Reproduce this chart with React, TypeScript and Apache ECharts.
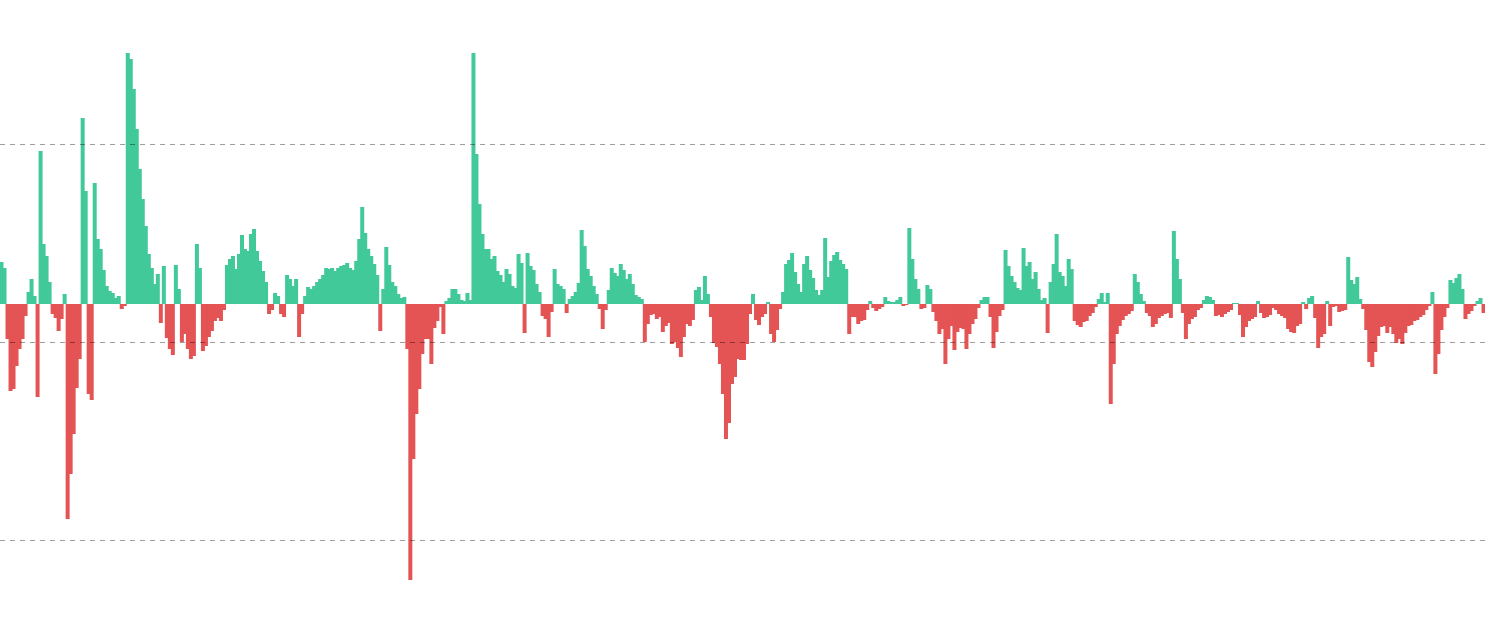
import React, { useEffect, useRef } from "react";
import * as echarts from "echarts";

// Oscillator values, one bar per period, read left to right
const seg1 = [42, 36, -35, -87, -85, -62, -45, -35, -12, 12, 25, 8, -93, 153, 60, 48, 22, -10, -14, -27, -15, 10, -215, -170, -130, -84, -55, 186, 113, -90, -96, 121, 65, 55, 34, 18, 13, 11, 6, 8, -5, -2, 251, 245, 215, 175, 135, 105, 78, 50, 36, 20, 30, -19, 38, -34, -45, -51, 39, 15, -38, -30, -45, -55, -52, 60, 36, -47, -42, -33, -27, -17, -14, -17, -6, 39, 45, 48, 35, 50, 69, 55, 53, 70];
const seg2 = [75, 53, 43, 33, 22, -10, -6, 11, 8, -10, -13, 29, 25, 18, 25, -33, -10, 8, 17, 15, 18, 22, 25, 29, 36, 35, 36, 33, 36, 38, 39, 41, 36, 34, 43, 65, 97, 71, 55, 48, 40, 29, -27, 15, 57, 39, 22, 18, 10, 6, 7, -45, -276, -155, -110, -85, -50, -35, -35, -60, -24, -17, -3, -30, 3, 6, 15, 15, 10, 4, 3, 11, 4, 251, 150, 100, 70, 55, 55, 45, 48, 33];
const seg3 = [29, 22, 35, 30, 18, 16, 50, 41, -29, 51, 38, 34, 20, 12, -12, -15, -33, -8, 35, 20, 18, 15, -9, 5, 8, 12, 21, 74, 58, 35, 28, 18, 10, -5, -25, -6, 14, 36, 31, 28, 40, 34, 25, 30, 20, 9, 7, 5, -38, -20, -11, -10, -15, -13, -28, -22, -19, -40, -38, -44, -53, -33, -20, -22, -16, 14, 17, 4, 28, 10, -13, -39, -43, -60, -90, -135, -119, -80, -73, -55, -56, -56, -40];
const seg4 = [-10, 10, -16, -21, -13, -10, 2, -30, -38, -26, -5, 12, 40, 44, 51, 32, 20, 12, 40, 48, 34, 26, 14, 9, 14, 66, 27, 43, 49, 52, 44, 40, 35, -30, -13, -13, -20, -17, -16, -6, 3, -4, -7, -5, -3, 7, 3, 2, 2, 4, 7, -2, -1, 76, 45, 25, 15, -5, -4, 19, 15, -8, -17, -30, -25, -60, -35, -22, -46, -28, -24, -25, -45, -30, -20, -15, -4, 4, 7, 7, -13];
const seg5 = [-44, -28, -12, -6, 54, 38, 28, 22, 16, 14, 56, 38, 42, 25, 32, 15, 4, 6, -29, 22, 40, 70, 32, 28, 18, 45, 35, -17, -21, -23, -18, -17, -12, -9, -3, 5, 11, 2, 11, -100, -60, -30, -22, -16, -12, -10, -7, 30, 22, 10, 3, -9, -12, -23, -20, -14, -12, -10, -9, -14, 73, 45, 25, -9, -35, -20, -15, -13, -6, -4, 4, 8, 7, 4, -12, -11, -13, -10, -8, -6, 1, 1, -11];
const seg6 = [-33, -23, -17, -15, -13, 3, -9, -14, -13, -11, -4, -6, -10, -12, -14, -25, -28, -29, -22, -20, 2, -5, 6, 8, -14, -44, -33, -30, 3, -22, -3, -2, -8, -7, -6, 47, 24, 20, 27, 5, -5, -26, -58, -63, -48, -32, -23, -22, -29, -23, -30, -39, -35, -40, -29, -22, -21, -17, -16, -13, -11, -6, -2, 12, -70, -50, -26, -13, -4, 24, 21, 26, 30, 15, -15, -10, -7, -2, 3, 6, -9];

const values: number[] = [...seg1, ...seg2, ...seg3, ...seg4, ...seg5, ...seg6];
const categories: string[] = values.map((_, i) => String(i + 1));

// reference scale lines (secondary axis)
const guideMin = 0;
const guideMax = 2;
const guideInterval = 1;

const UP = "#42c99a";
const DOWN = "#e45454";

export default function App() {
  const ref = useRef<HTMLDivElement>(null);
  useEffect(() => {
    if (!ref.current) return;
    const chart = echarts.init(ref.current, null, { renderer: "svg" });
    const barData = values.map((v) => ({ value: v, itemStyle: { color: v >= 0 ? UP : DOWN } }));
    chart.setOption({
      animation: false,
      backgroundColor: "#ffffff",
      grid: [
        { left: 0, right: 5, top: 53, bottom: 53 },
        { left: 0, right: 4, top: 144, bottom: 93 },
      ],
      xAxis: [
        { type: "category", gridIndex: 0, data: categories, show: false, boundaryGap: true },
        { type: "value", gridIndex: 1, min: 0, max: 1, show: false },
      ],
      yAxis: [
        { type: "value", gridIndex: 0, min: -276, max: 251, show: false, splitLine: { show: false } },
        {
          type: "value",
          gridIndex: 1,
          min: guideMin,
          max: guideMax,
          interval: guideInterval,
          z: 10,
          axisLine: { show: false },
          axisTick: { show: false },
          axisLabel: { show: false },
          splitLine: {
            show: true,
            lineStyle: { color: "rgba(0,0,0,0.38)", width: 1, type: [5, 5] },
          },
        },
      ],
      series: [
        {
          type: "bar",
          xAxisIndex: 0,
          yAxisIndex: 0,
          data: barData,
          barWidth: 4,
          emphasis: { disabled: true },
        },
      ],
    });
    return () => chart.dispose();
  }, []);
  return (
    <div
      ref={ref}
      style={{ position: "absolute", left: 0, top: 0, width: 1490, height: 633 }}
    />
  );
}
